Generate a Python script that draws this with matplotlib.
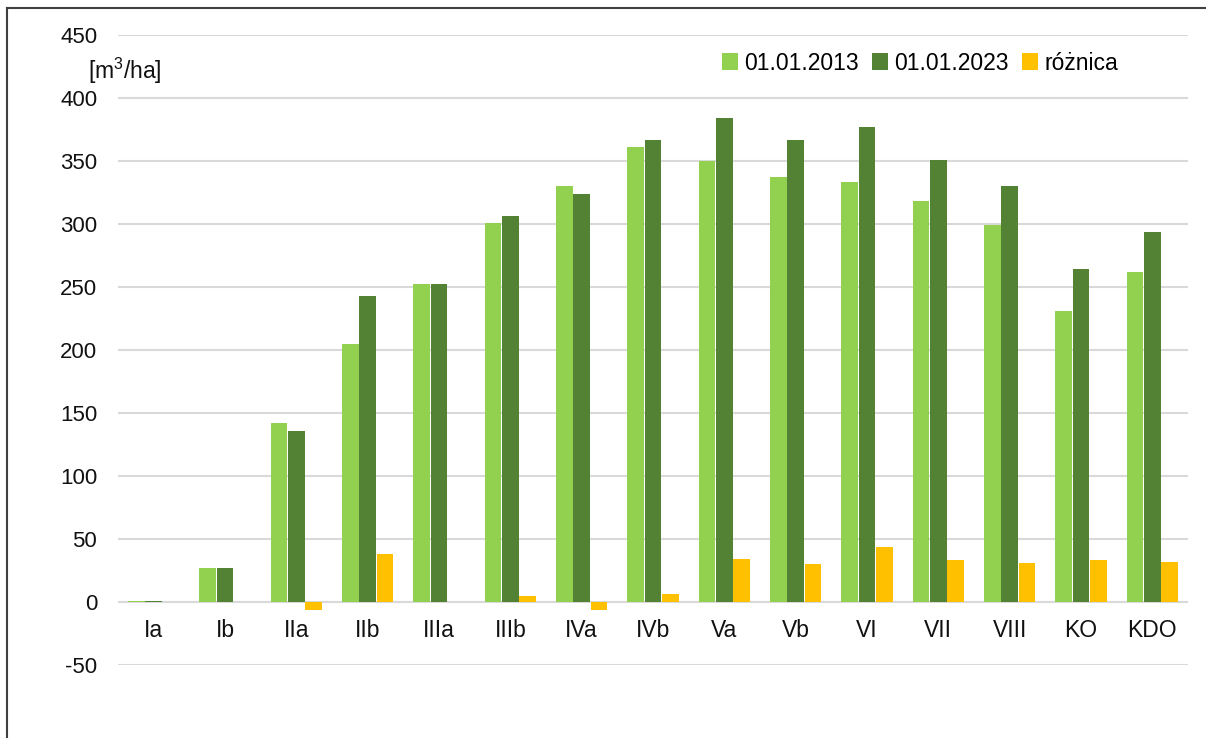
import matplotlib
matplotlib.use("Agg")
import matplotlib.pyplot as plt
from matplotlib.lines import Line2D
from matplotlib.patches import Patch
import numpy as np

plt.rcParams['font.family'] = ['Liberation Sans', 'DejaVu Sans']
plt.rcParams['mathtext.fontset'] = 'custom'
plt.rcParams['mathtext.rm'] = 'Liberation Sans'
plt.rcParams['mathtext.it'] = 'Liberation Sans'

categories = ['Ia', 'Ib', 'IIa', 'IIb', 'IIIa', 'IIIb', 'IVa', 'IVb', 'Va', 'Vb',
              'VI', 'VII', 'VIII', 'KO', 'KDO']
v2013 = [1, 27, 142, 205, 252, 301, 330, 361, 350, 337, 333, 318, 299, 231, 262]
v2023 = [1, 27, 136, 243, 252, 306, 324, 367, 384, 367, 377, 351, 330, 264, 294]
diff = [0, 0, -6, 38, 0, 5, -6, 6, 34, 30, 44, 33, 31, 33, 32]
series_labels = ['01.01.2013', '01.01.2023', 'różnica']
colors = ['#92D050', '#548235', '#FFC000']
yticks = [-50, 0, 50, 100, 150, 200, 250, 300, 350, 400, 450]

W, H = 1206, 738
fig = plt.figure(figsize=(W / 100, H / 100), dpi=100)
ax = fig.add_axes([118 / W, 1 - 665 / H, (1188 - 118) / W, (665 - 35) / H])

x = np.arange(len(categories))
bw = 0.243
for i, (vals, c) in enumerate(zip([v2013, v2023, diff], colors)):
    ax.bar(x + (i - 1) * bw, vals, width=bw - 0.014, color=c, linewidth=0, zorder=3)

ax.set_xlim(-0.5, len(categories) - 0.5)
ax.set_ylim(-50, 450)
ax.set_yticks(yticks)
ax.set_yticklabels([str(t) for t in yticks], fontsize=16, color='#111111')
ax.yaxis.grid(True, color='#d9d9d9', linewidth=1.5, zorder=0)
ax.set_xticks([])
for xi, lab in zip(x, categories):
    ax.text(xi, -22.5, lab, ha='center', va='center', fontsize=16.5, color='#111111')
for s in ax.spines.values():
    s.set_visible(False)
ax.tick_params(axis='y', length=0, pad=15)
ax.tick_params(axis='x', length=0)

fig.text(88 / W, 1 - 71 / H, r'[m$^{3}$/ha]', fontsize=16.5, ha='left', va='center',
         color='#111111')

handles = [Patch(facecolor=c, edgecolor='none') for c in colors]
leg = fig.legend(handles, series_labels, loc='center', bbox_to_anchor=(920 / W, 1 - 63 / H),
                 ncol=3, frameon=False, fontsize=16.5, handlelength=0.7, handleheight=0.7,
                 handletextpad=0.25, columnspacing=0.6)

fig.add_artist(Line2D([7 / W, 1.0], [1 - 8 / H, 1 - 8 / H], transform=fig.transFigure,
                      color='#404040', linewidth=1.5))
fig.add_artist(Line2D([7 / W, 7 / W], [1 - 8 / H, 0], transform=fig.transFigure,
                      color='#404040', linewidth=1.5))

fig.savefig('out.png', dpi=100)
